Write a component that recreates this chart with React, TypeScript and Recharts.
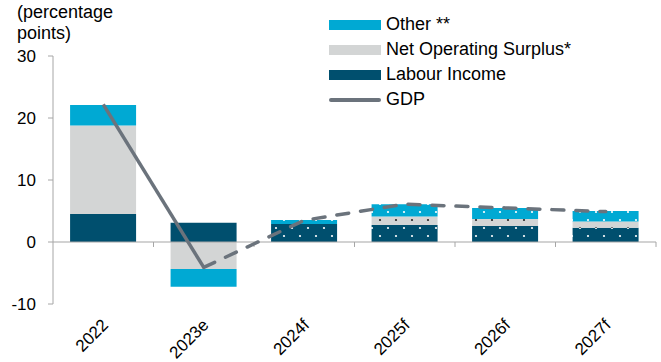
import React from 'react';
import {
  ComposedChart, Bar, Line, XAxis, YAxis, Cell, ReferenceLine, Customized,
} from 'recharts';

const YEARS = ['2022', '2023e', '2024f', '2025f', '2026f', '2027f'];
const LABOUR = [4.5, 3.1, 2.9, 2.75, 2.6, 2.3];
const SURPLUS = [14.3, -4.35, 0, 1.35, 1.1, 1.0];
const OTHER = [3.3, -2.85, 0.65, 2.0, 1.8, 1.7];
const GDP_ACTUAL = [22.2, -4.1, null, null, null, null];
const GDP_FORECAST = [null, -4.1, 3.5, 6.1, 5.5, 4.9];
const Y_TICKS = [-10, 0, 10, 20, 30];

const C_OTHER = '#00a9d3';
const C_SURPLUS = '#d3d5d5';
const C_LABOUR = '#004f6e';
const C_GDP = '#6b737c';
const C_AXIS = '#a6a6a6';
const FONT = 'Arial, "Liberation Sans", sans-serif';

const data = YEARS.map((year, i) => ({
  year,
  labour: LABOUR[i],
  surplus: SURPLUS[i],
  other: OTHER[i],
  gdpActual: GDP_ACTUAL[i],
  gdpForecast: GDP_FORECAST[i],
}));

const isForecast = (y: string) => y.endsWith('f');

const LEGEND = [
  { name: 'Other **', color: C_OTHER, line: false },
  { name: 'Net Operating Surplus*', color: C_SURPLUS, line: false },
  { name: 'Labour Income', color: C_LABOUR, line: false },
  { name: 'GDP', color: C_GDP, line: true },
];

// legend sits over the plot, top right, like in the original
const LegendBox = () => (
  <div style={{ position: 'absolute', left: 329, top: 12, fontFamily: FONT, fontSize: 18, color: '#000' }}>
    {LEGEND.map((l) => (
      <div key={l.name} style={{ display: 'flex', alignItems: 'center', height: 25 }}>
        <div
          style={{
            width: 52,
            height: l.line ? 4 : 10,
            borderRadius: l.line ? 2 : 0,
            backgroundColor: l.color,
            marginRight: 5,
          }}
        />
        <span>{l.name}</span>
      </div>
    ))}
  </div>
);

const XTick = (props: any) => {
  const { x, y, payload } = props;
  return (
    <g transform={`translate(${x + 6},${y + 22}) rotate(-45)`}>
      <text textAnchor="end" fontSize={17} fontFamily={FONT} fill="#000">
        {payload.value}
      </text>
    </g>
  );
};

const Title = () => (
  <text fontFamily={FONT} fontSize={18} fill="#000">
    <tspan x={17} y={18}>(percentage</tspan>
    <tspan x={17} y={39}>points)</tspan>
  </text>
);

const dots = (id: string, bg: string, dot: string) => (
  <pattern id={id} patternUnits="userSpaceOnUse" width={16} height={16}>
    <rect width={16} height={16} fill={bg} />
    <circle cx={4} cy={4} r={1.1} fill={dot} />
    <circle cx={12} cy={12} r={1.1} fill={dot} />
  </pattern>
);

export default function App() {
  return (
    <div style={{ position: 'absolute', left: 0, top: 0, width: 661, height: 362 }}>
      <ComposedChart
        width={661}
        height={362}
        data={data}
        stackOffset="sign"
        barCategoryGap="17%"
        margin={{ top: 56, right: 5, left: 0, bottom: 0 }}
      >
        <defs>
          {dots('dotsLabour', C_LABOUR, '#ffffff')}
          {dots('dotsSurplus', C_SURPLUS, '#222222')}
          {dots('dotsOther', C_OTHER, '#ffffff')}
        </defs>
        <XAxis
          dataKey="year"
          axisLine={false}
          tickLine={false}
          tickSize={0}
          tickMargin={0}
          height={58}
          interval={0}
          tick={<XTick />}
        />
        <YAxis
          domain={[-10, 30]}
          ticks={Y_TICKS}
          width={53}
          axisLine={{ stroke: C_AXIS }}
          tickLine={{ stroke: C_AXIS }}
          tickSize={5}
          tickMargin={12}
          tick={{ fontSize: 17, fontFamily: FONT, fill: '#000' }}
        />
        <Bar dataKey="labour" stackId="s" isAnimationActive={false}>
          {YEARS.map((y) => (
            <Cell key={y} fill={isForecast(y) ? 'url(#dotsLabour)' : C_LABOUR} />
          ))}
        </Bar>
        <Bar dataKey="surplus" stackId="s" isAnimationActive={false}>
          {YEARS.map((y) => (
            <Cell key={y} fill={isForecast(y) ? 'url(#dotsSurplus)' : C_SURPLUS} />
          ))}
        </Bar>
        <Bar dataKey="other" stackId="s" isAnimationActive={false}>
          {YEARS.map((y) => (
            <Cell key={y} fill={isForecast(y) ? 'url(#dotsOther)' : C_OTHER} />
          ))}
        </Bar>
        <ReferenceLine y={0} stroke={C_AXIS} strokeWidth={1.2} />
        {YEARS.slice(1).map((y) => (
          <ReferenceLine
            key={y}
            segment={[{ x: y, y: 0 }, { x: y, y: -0.8 }]}
            position="start"
            stroke={C_AXIS}
          />
        ))}
        <ReferenceLine
          segment={[{ x: YEARS[YEARS.length - 1], y: 0 }, { x: YEARS[YEARS.length - 1], y: -0.8 }]}
          position="end"
          stroke={C_AXIS}
        />
        <Line
          dataKey="gdpActual"
          stroke={C_GDP}
          strokeWidth={3.5}
          dot={false}
          activeDot={false}
          connectNulls={false}
          isAnimationActive={false}
        />
        <Line
          dataKey="gdpForecast"
          stroke={C_GDP}
          strokeWidth={3.5}
          strokeDasharray="12 12"
          strokeLinecap="round"
          dot={false}
          activeDot={false}
          isAnimationActive={false}
        />
        <Customized component={Title} />
      </ComposedChart>
      <LegendBox />
    </div>
  );
}
